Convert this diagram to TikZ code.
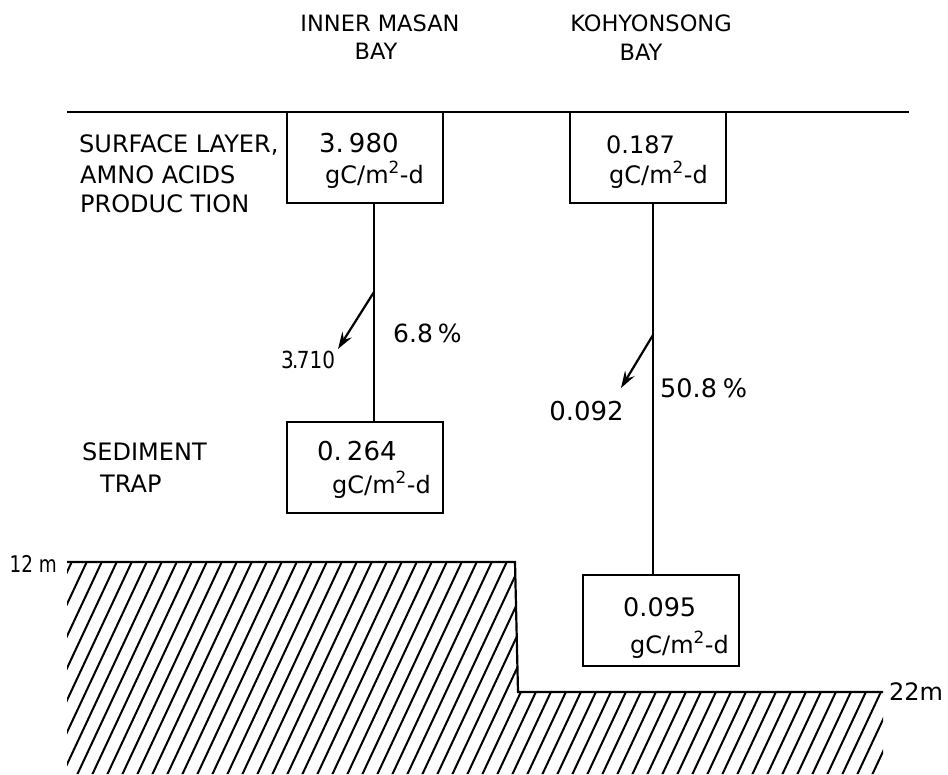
\documentclass[tikz,border=0pt]{standalone}
\usepackage{fontspec}
\setmainfont{DejaVu Sans}
\usetikzlibrary{arrows.meta}
\begin{document}
\begin{tikzpicture}[x=1pt,y=-1pt,
  box/.style={draw,line width=2.2pt,minimum width=156pt,minimum height=91pt,inner sep=0pt,outer sep=0pt,anchor=north west},
  lbl/.style={font=\fontsize{24}{28}\selectfont,inner sep=0pt,anchor=base west},
  num/.style={font=\fontsize{24}{28}\selectfont,inner sep=0pt,anchor=base west},
  ttl/.style={font=\fontsize{22.5}{26}\selectfont,inner sep=0pt,anchor=base},
  ln/.style={line width=2.2pt},
  arr/.style={line width=2.2pt,-{Stealth[length=17pt,width=11pt,inset=6pt]}},
  hatch/.style={line width=2pt}]
\useasboundingbox (0,0) rectangle (948,774);

% titles
\node[ttl] (t1a) at (380,31) {INNER MASAN};
\node[ttl] (t1b) at (376,59) {BAY};
\node[ttl] (t2a) at (651,31) {KOHYONSONG};
\node[ttl] (t2b) at (641,60) {BAY};

% surface line
\coordinate (sl) at (67,112);
\coordinate (sr) at (909,112);
\draw[ln] (sl) -- (sr);

% left labels
\node[lbl] (s1) at (79,152) {SURFACE LAYER,};
\node[lbl] (s2) at (80,183) {AMNO ACIDS};
\node[lbl] (s3) at (80,212) {PRODUC TION};
\node[lbl] (d1) at (82,460) {SEDIMENT};
\node[lbl] (d2) at (100,492) {TRAP};

% boxes
\node[box] (b1) at (287,112) {};
\node[box] (b2) at (570,112) {};
\node[box] (b3) at (287,422) {};
\node[box] (b4) at (583,575) {};

\node[num,font=\fontsize{26}{30}\selectfont] (v1) at (319,152) {3.\kern5pt980};
\node[num] (u1) at (325,183) {gC/m\textsuperscript{2}-d};
\node[num] (v2) at (606,153) {0.187};
\node[num] (u2) at (609,183) {gC/m\textsuperscript{2}-d};
\node[num,font=\fontsize{26}{30}\selectfont] (v3) at (317,460) {0.\kern5pt264};
\node[num] (u3) at (332,493) {gC/m\textsuperscript{2}-d};
\node[num,font=\fontsize{25.5}{30}\selectfont] (v4) at (623,616) {0.095};
\node[num] (u4) at (630,653) {gC/m\textsuperscript{2}-d};

% connectors
\coordinate (l1) at (374,300);
\coordinate (l2) at (653,300);
\draw[ln] (l1 |- b1.south) -- (l1 |- b3.north);
\draw[ln] (l2 |- b2.south) -- (l2 |- b4.north);

% arrows
\coordinate (a1s) at (374,292);
\coordinate (a1e) at (338,349);
\coordinate (a2s) at (653,335);
\coordinate (a2e) at (621,388);
\draw[arr] (a1s) -- (a1e);
\draw[arr] (a2s) -- (a2e);

\node[num,font=\fontsize{23.5}{28}\selectfont] (r1) at (281,368) {\scalebox{0.85}[1]{3\kern-2pt.\kern-2pt710}};
\node[num,font=\fontsize{25}{30}\selectfont] (p1) at (393,342) {6.8\kern5pt\%};
\node[num,font=\fontsize{26}{30}\selectfont,anchor=base east] (r2) at (624,420) {0.092};
\node[num,font=\fontsize{25.5}{30}\selectfont] (p2) at (660,397) {50.8\kern6pt\%};

% ground
\coordinate (g1) at (67,562);
\coordinate (g2) at (515,562);
\coordinate (g3) at (518,692);
\coordinate (g4) at (883,692);
\begin{scope}
  \clip (g1) -- (g2) -- (g3) -- (g4) -- (883,774) -- (67,774) -- cycle;
  \foreach \i in {0,...,64} {
    \draw[hatch] ({-50+15*\i},790) -- ++(117,-250);
  }
\end{scope}
\draw[ln] (g1) -- (g2) -- (g3) -- (g4);

\node[num,font=\fontsize{23}{26}\selectfont,anchor=base east] (m12) at (57,572) {\scalebox{0.8}[1]{12 m}};
\node[num] (m22) at (889,700) {22m};
\end{tikzpicture}
\end{document}
